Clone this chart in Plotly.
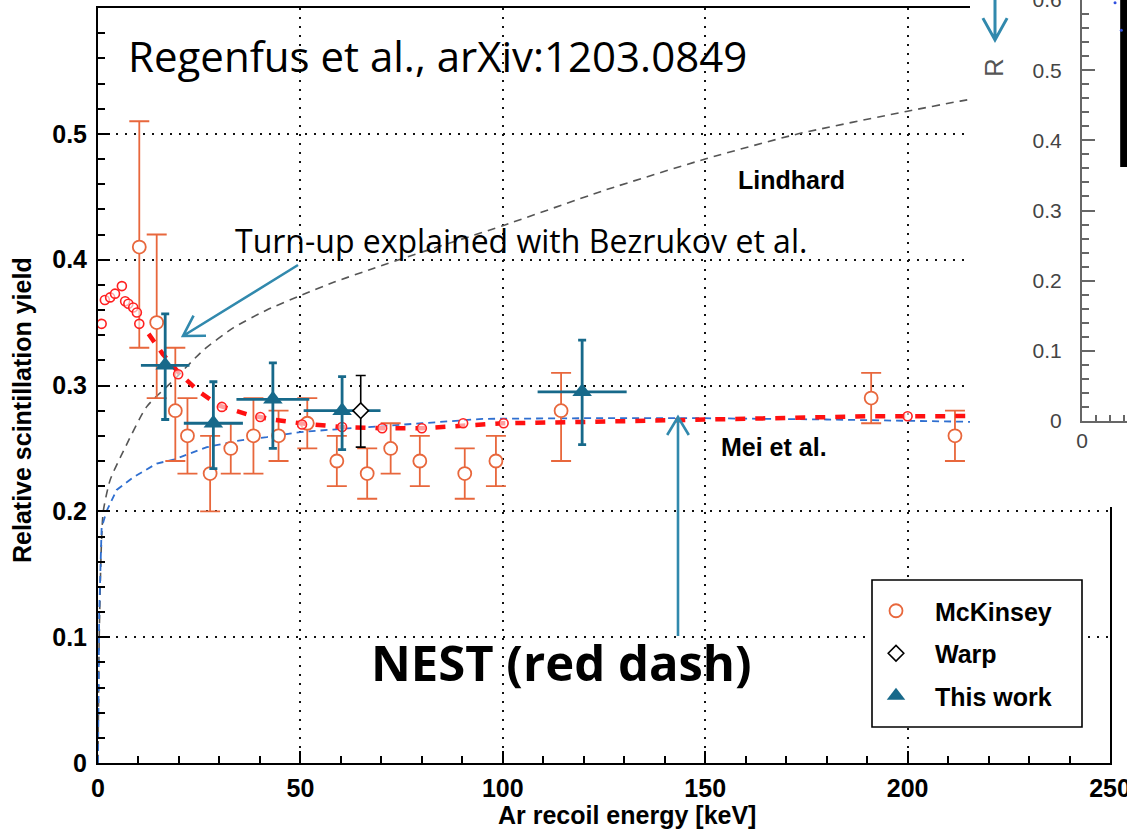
import math
import plotly.graph_objects as go

W, H = 1127, 830

# ---------------- data ----------------
# McKinsey (open orange circles)
mck_E = [10.2, 14.5, 19.1, 22.1, 27.7, 32.8, 38.4, 44.6, 51.7, 59.0, 66.5, 72.3, 79.5, 90.6, 98.3, 114.4, 191.0, 211.7]
mck_Y = [0.41, 0.35, 0.28, 0.26, 0.23, 0.25, 0.26, 0.26, 0.27, 0.24, 0.23, 0.25, 0.24, 0.23, 0.24, 0.28, 0.29, 0.26]
mck_up = [0.10, 0.07, 0.05, 0.03, 0.03, 0.02, 0.03, 0.02, 0.02, 0.02, 0.02, 0.02, 0.02, 0.02, 0.02, 0.03, 0.02, 0.02]
mck_dn = [0.08, 0.06, 0.04, 0.03, 0.03, 0.02, 0.03, 0.02, 0.02, 0.02, 0.02, 0.02, 0.02, 0.02, 0.02, 0.04, 0.02, 0.02]

# Warp (open diamond)
warp_E = [64.9]
warp_Y = [0.28]
warp_up = [0.028]
warp_dn = [0.029]

# This work (filled triangles)
tw_E = [16.6, 28.5, 43.2, 60.3, 119.6]
tw_Y = [0.316, 0.270, 0.289, 0.280, 0.295]
tw_Eerr = [6.0, 7.3, 9.0, 9.5, 11.0]
tw_up = [0.041, 0.033, 0.029, 0.027, 0.041]
tw_dn = [0.043, 0.036, 0.039, 0.031, 0.042]

# Lindhard (grey dashed)
lind_E = [0, 0.3, 0.8, 1.3, 3, 6.3, 12, 18.6, 26, 33.5, 41.7, 50.4, 58.2, 68, 80, 100, 125, 150, 173, 200, 213, 230, 250]
lind_Y = [0, 0.10, 0.17, 0.20, 0.225, 0.248, 0.283, 0.304, 0.328, 0.346, 0.360, 0.372, 0.382, 0.393, 0.406,
          0.427, 0.455, 0.480, 0.500, 0.518, 0.526, 0.535, 0.545]

# Mei et al. (blue dashed)
mei_E = [0, 0.3, 0.9, 2.1, 4.6, 8.7, 14.5, 18.6, 26.9, 34.3, 41.7, 50, 58, 70, 80, 95, 120, 150, 180, 218, 250]
mei_Y = [0, 0.12, 0.187, 0.200, 0.217, 0.227, 0.238, 0.241, 0.251, 0.256, 0.259, 0.263, 0.265, 0.268, 0.270,
         0.2735, 0.274, 0.274, 0.273, 0.271, 0.270]

# NEST (red thick dashes)
nest_E = [12.5, 16, 20, 25, 30, 37, 43, 50, 60, 70, 80, 90, 100, 120, 150, 190, 250]
nest_Y = [0.341, 0.325, 0.310, 0.295, 0.284, 0.277, 0.273, 0.270, 0.267, 0.266, 0.266, 0.268, 0.270, 0.271,
          0.273, 0.2755, 0.276]

# NEST points (small red circles)
nestp_E = [0.9, 1.7, 3.0, 4.2, 5.9, 6.7, 7.5, 8.7, 9.6, 10.2, 19.8, 30.6, 40.1, 50.4, 60.3, 70.2, 80.0, 90.2, 100.2, 200.0]
nestp_Y = [0.349, 0.368, 0.370, 0.373, 0.379, 0.367, 0.365, 0.362, 0.358, 0.349, 0.309, 0.283, 0.275, 0.269,
           0.267, 0.266, 0.266, 0.270, 0.270, 0.2756]

# Inset (partially visible second plot)
inset_smear_X = [3.0, 3.0]
inset_smear_Y = [0.362, 0.60]
inset_blue_X = [2.35, 2.8]
inset_blue_Y = [0.596, 0.557]

x_ticks = [0, 50, 100, 150, 200, 250]
y_ticks = [0, 0.1, 0.2, 0.3, 0.4, 0.5]
y_ticklabels = ["0", "0.1", "0.2", "0.3", "0.4", "0.5"]
inset_y_ticks = [0, 0.1, 0.2, 0.3, 0.4, 0.5, 0.6]
inset_y_labels = ["0", "0.1", "0.2", "0.3", "0.4", "0.5", "0.6"]

# ---------------- styling ----------------
ORANGE = "#E8673C"
TEAL = "#17698A"
ARROW = "#3189AD"
ARIAL = "Liberation Sans"
HUMAN = "Open Sans"


def fx(x):
    return x / W


def fy(y):
    return 1 - y / H


fig = go.Figure()

fig.add_trace(go.Scatter(x=lind_E, y=lind_Y, mode="lines", showlegend=False, hoverinfo="skip",
                         line=dict(color="#555555", width=1.6, dash="8px,6px", shape="spline", smoothing=0.6)))
fig.add_trace(go.Scatter(x=mei_E, y=mei_Y, mode="lines", showlegend=False, hoverinfo="skip",
                         line=dict(color="#2F6FD0", width=1.8, dash="7px,5px")))

fig.add_trace(go.Scatter(
    x=mck_E, y=mck_Y, mode="markers", name="McKinsey", legendgroup="g1", legendrank=1,
    marker=dict(symbol="circle", size=13, color="white", line=dict(color=ORANGE, width=1.8)),
    error_y=dict(type="data", symmetric=False, array=mck_up, arrayminus=mck_dn,
                 color=ORANGE, thickness=1.8, width=10)))

fig.add_trace(go.Scatter(x=nest_E, y=nest_Y, mode="lines", showlegend=False, hoverinfo="skip",
                         line=dict(color="#FF1010", width=4.5, dash="10px,10px")))
fig.add_trace(go.Scatter(x=nestp_E, y=nestp_Y, mode="markers", showlegend=False, hoverinfo="skip",
                         marker=dict(symbol="circle", size=9, color="rgba(255,255,255,0.6)",
                                     line=dict(color="#FF2020", width=1.6))))

fig.add_trace(go.Scatter(
    x=tw_E, y=tw_Y, mode="markers", name="This work", legendgroup="g3", legendrank=3,
    marker=dict(symbol="triangle-up", size=17, color=TEAL, line=dict(width=0)),
    error_x=dict(type="data", array=tw_Eerr, color=TEAL, thickness=2.8, width=0),
    error_y=dict(type="data", symmetric=False, array=tw_up, arrayminus=tw_dn,
                 color=TEAL, thickness=2.8, width=4)))

fig.add_trace(go.Scatter(
    x=warp_E, y=warp_Y, mode="markers", name="Warp", legendgroup="g2", legendrank=2,
    marker=dict(symbol="diamond", size=12, color="white", line=dict(color="black", width=1.6)),
    error_y=dict(type="data", symmetric=False, array=warp_up, arrayminus=warp_dn,
                 color="black", thickness=1.6, width=5)))

# cover subplot (white background of pasted inset)
fig.add_trace(go.Scatter(x=[], y=[], xaxis="x2", yaxis="y2", showlegend=False, hoverinfo="skip"))
# inset subplot contents
fig.add_trace(go.Scatter(x=inset_smear_X, y=inset_smear_Y, xaxis="x3", yaxis="y3", mode="lines",
                         showlegend=False, hoverinfo="skip", line=dict(color="black", width=8)))
fig.add_trace(go.Scatter(x=inset_blue_X, y=inset_blue_Y, xaxis="x3", yaxis="y3", mode="markers",
                         showlegend=False, hoverinfo="skip", marker=dict(color="#3050E0", size=3)))

grid = dict(showgrid=True, gridcolor="#111111", gridwidth=1.8, griddash="2px,7px")
tickfont_main = dict(family=ARIAL, size=25, color="black", weight="bold")

fig.update_layout(
    width=W, height=H, template="none",
    margin=dict(l=0, r=0, t=0, b=0, autoexpand=False),
    paper_bgcolor="white", plot_bgcolor="white",
    xaxis=dict(domain=[fx(98), fx(1110)], range=[0, 250], tickvals=x_ticks,
               ticks="inside", ticklen=12, tickwidth=1.6, tickcolor="black",
               showline=True, linewidth=2, linecolor="black", mirror=True, zeroline=False,
               tickfont=tickfont_main, ticklabelstandoff=2, anchor="y", ticklabeloverflow="allow",
               minor=dict(dtick=10, ticks="inside", ticklen=7, tickwidth=1.6, tickcolor="black", showgrid=False),
               **grid),
    yaxis=dict(domain=[fy(763), fy(8)], range=[0, 0.6], tickvals=y_ticks, ticktext=y_ticklabels,
               ticks="inside", ticklen=12, tickwidth=1.6, tickcolor="black",
               showline=True, linewidth=2, linecolor="black", mirror=True, zeroline=False,
               tickfont=tickfont_main, ticklabelstandoff=4, anchor="x", ticklabeloverflow="allow",
               minor=dict(dtick=0.02, ticks="inside", ticklen=7, tickwidth=1.6, tickcolor="black", showgrid=False),
               **grid),
    xaxis2=dict(domain=[fx(970), 1], range=[0, 1], anchor="y2", showline=False, showgrid=False,
                zeroline=False, showticklabels=False, ticks=""),
    yaxis2=dict(domain=[fy(507), 1], range=[0, 1], anchor="x2", showline=False, showgrid=False,
                zeroline=False, showticklabels=False, ticks=""),
    xaxis3=dict(domain=[fx(1082), 1], range=[0, 3.2], anchor="y3", showline=True, linewidth=2,
                linecolor="#666666", showgrid=False, zeroline=False, tickvals=[0], ticktext=["0"],
                ticks="inside", ticklen=7, tickwidth=1.5, tickcolor="#666666", ticklabeloverflow="allow",
                tickfont=dict(family=ARIAL, size=21, color="#444444"),
                minor=dict(dtick=1, ticks="inside", ticklen=6, tickwidth=1.5, tickcolor="#666666")),
    yaxis3=dict(domain=[fy(421), 1], range=[0, 0.6], anchor="x3", showline=True, linewidth=2,
                linecolor="#666666", showgrid=False, zeroline=False, tickvals=inset_y_ticks,
                ticktext=inset_y_labels, ticks="inside", ticklen=13, tickwidth=1.5, tickcolor="#666666",
                tickfont=dict(family=ARIAL, size=21, color="#444444"), ticklabelstandoff=14,
                ticklabeloverflow="allow",
                minor=dict(dtick=0.02, ticks="inside", ticklen=7, tickwidth=1.5, tickcolor="#666666")),
    showlegend=True,
    legend=dict(x=fx(857), y=fy(588), xanchor="left", yanchor="top", itemwidth=68,
                bgcolor="rgba(0,0,0,0)", borderwidth=0, traceorder="grouped", tracegroupgap=7,
                font=dict(family=ARIAL, size=25, color="black", weight="bold")),
)


def arrow_path(x0, y0, x1, y1, head, ang):
    dx, dy = x0 - x1, y0 - y1
    L = math.hypot(dx, dy)
    ux, uy = dx / L, dy / L
    pts = []
    for s in (-1, 1):
        a = math.radians(ang) * s
        wx = x1 + head * (ux * math.cos(a) - uy * math.sin(a))
        wy = y1 + head * (ux * math.sin(a) + uy * math.cos(a))
        pts.append((wx, wy))
    return (f"M {fx(x0)} {fy(y0)} L {fx(x1)} {fy(y1)} "
            f"M {fx(pts[0][0])} {fy(pts[0][1])} L {fx(x1)} {fy(y1)} L {fx(pts[1][0])} {fy(pts[1][1])}")


shapes = [
    dict(type="rect", xref="paper", yref="paper", x0=fx(872), x1=fx(1082), y0=fy(727), y1=fy(580),
         fillcolor="white", line=dict(color="black", width=1.6), layer="above"),
    dict(type="path", xref="paper", yref="paper", path=arrow_path(298, 265, 183, 336, 23, 31),
         line=dict(color=ARROW, width=2.6), layer="above"),
    dict(type="path", xref="paper", yref="paper", path=arrow_path(678, 636, 678, 417, 21, 31),
         line=dict(color=ARROW, width=2.6), layer="above"),
    dict(type="path", xref="paper", yref="paper", path=arrow_path(995, -2, 995, 40, 25, 29),
         line=dict(color=ARROW, width=3), layer="above"),
]
fig.update_layout(shapes=shapes)


def ann(text, x, y, size, family, weight="normal", color="black", xanchor="left", angle=0):
    return dict(text=text, x=fx(x), y=fy(y), xref="paper", yref="paper", showarrow=False,
                xanchor=xanchor, yanchor="middle", textangle=angle,
                font=dict(family=family, size=size, color=color, weight=weight))


annotations = [
    ann("Regenfus et al., arXiv:1203.0849", 126, 55, 42, HUMAN),
    ann("Turn-up explained with Bezrukov et al.", 233, 241, 32, HUMAN),
    ann("NEST (red dash)", 369, 662, 49, HUMAN, weight="bold"),
    ann("Lindhard", 736, 180, 25, ARIAL, weight="bold"),
    ann("Mei et al.", 719, 447, 25, ARIAL, weight="bold"),
    ann("Ar recoil energy [keV]", 627, 815, 25, ARIAL, weight="bold", xanchor="center"),
    ann("Relative scintillation yield", 22, 410, 25, ARIAL, weight="bold", xanchor="center", angle=-90),
    ann("R", 994, 68, 26, ARIAL, color="#555555", xanchor="center", angle=-90),
]
fig.update_layout(annotations=annotations)

fig.write_html("out.html", config={"displayModeBar": False})
